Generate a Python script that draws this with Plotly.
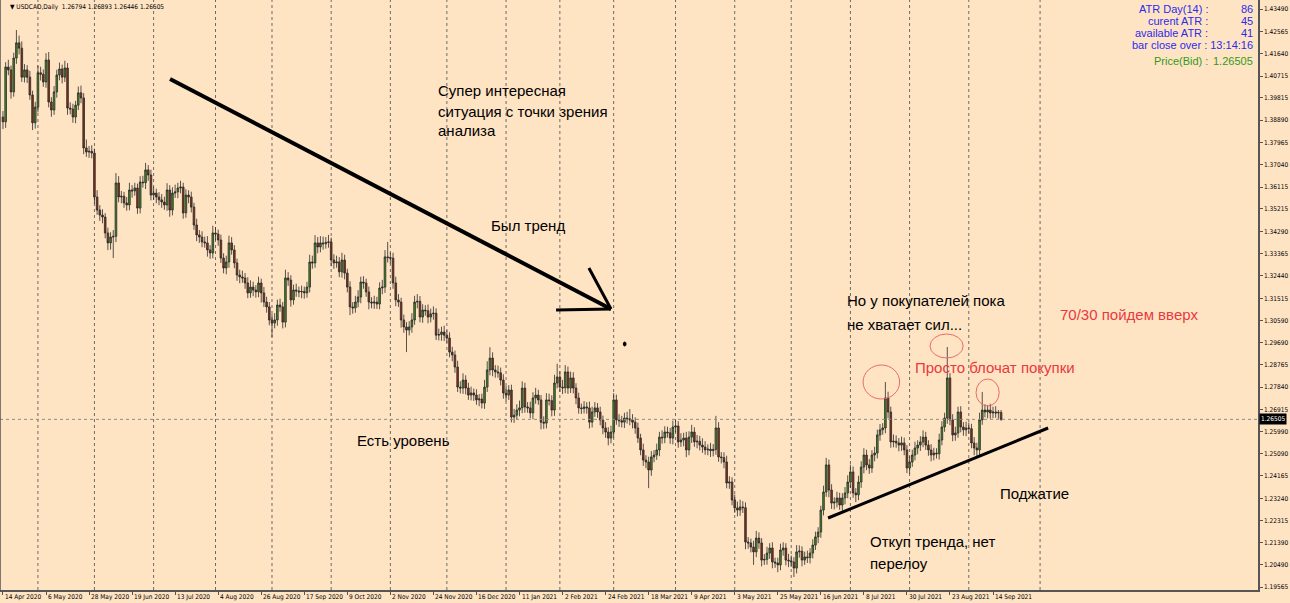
import plotly.graph_objects as go
import pandas as pd

# ---------------- data (USDCAD daily) ----------------
first_open = 1.3902
close = [
    1.3882, 1.4109, 1.4097, 1.4006, 1.4146, 1.4209, 1.4187, 1.4067, 1.4097, 1.4067,
    1.3993, 1.3878, 1.3943, 1.4085, 1.4079, 1.4047, 1.4138, 1.3964, 1.3931, 1.4006,
    1.4076, 1.4101, 1.4067, 1.4105, 1.3939, 1.3935, 1.3902, 1.3951, 1.4002, 1.3981,
    1.3774, 1.3757, 1.3760, 1.3753, 1.3571, 1.3517, 1.3496, 1.3488, 1.3422, 1.3381,
    1.3405, 1.3408, 1.3629, 1.3571, 1.3574, 1.3546, 1.3538, 1.3600, 1.3596, 1.3608,
    1.3525, 1.3633, 1.3630, 1.3683, 1.3662, 1.3579, 1.3587, 1.3571, 1.3559, 1.3550,
    1.3538, 1.3600, 1.3517, 1.3587, 1.3592, 1.3608, 1.3612, 1.3505, 1.3579, 1.3571,
    1.3529, 1.3455, 1.3414, 1.3405, 1.3385, 1.3381, 1.3352, 1.3339, 1.3422, 1.3418,
    1.3393, 1.3318, 1.3277, 1.3302, 1.3381, 1.3352, 1.3298, 1.3248, 1.3240, 1.3236,
    1.3215, 1.3174, 1.3198, 1.3186, 1.3178, 1.3215, 1.3174, 1.3136, 1.3116, 1.3062,
    1.3049, 1.3062, 1.3124, 1.3116, 1.3053, 1.3236, 1.3227, 1.3145, 1.3186, 1.3182,
    1.3178, 1.3180, 1.3174, 1.3198, 1.3302, 1.3298, 1.3381, 1.3364, 1.3381, 1.3377,
    1.3383, 1.3385, 1.3310, 1.3298, 1.3302, 1.3261, 1.3310, 1.3256, 1.3198, 1.3116,
    1.3112, 1.3136, 1.3157, 1.3219, 1.3215, 1.3178, 1.3136, 1.3132, 1.3136, 1.3128,
    1.3194, 1.3198, 1.3323, 1.3320, 1.3318, 1.3215, 1.3145, 1.3136, 1.3062, 1.3033,
    1.3020, 1.3033, 1.3062, 1.3136, 1.3139, 1.3074, 1.3103, 1.3100, 1.3074, 1.3087,
    1.3090, 1.2999, 1.3002, 1.3012, 1.2999, 1.2987, 1.2929, 1.2917, 1.2867, 1.2784,
    1.2780, 1.2813, 1.2780, 1.2751, 1.2760, 1.2751, 1.2731, 1.2735, 1.2718, 1.2784,
    1.2855, 1.2904, 1.2855, 1.2847, 1.2843, 1.2813, 1.2760, 1.2751, 1.2772, 1.2660,
    1.2668, 1.2689, 1.2698, 1.2780, 1.2702, 1.2698, 1.2677, 1.2739, 1.2751, 1.2731,
    1.2639, 1.2635, 1.2731, 1.2728, 1.2689, 1.2801, 1.2826, 1.2784, 1.2781, 1.2847,
    1.2780, 1.2822, 1.2780, 1.2739, 1.2698, 1.2695, 1.2702, 1.2698, 1.2639, 1.2681,
    1.2698, 1.2681, 1.2648, 1.2615, 1.2598, 1.2573, 1.2598, 1.2731, 1.2648, 1.2645,
    1.2639, 1.2656, 1.2653, 1.2648, 1.2639, 1.2615, 1.2573, 1.2524, 1.2482, 1.2474,
    1.2441, 1.2495, 1.2503, 1.2524, 1.2577, 1.2574, 1.2598, 1.2595, 1.2573, 1.2619,
    1.2623, 1.2557, 1.2565, 1.2573, 1.2524, 1.2577, 1.2598, 1.2557, 1.2560, 1.2544,
    1.2536, 1.2524, 1.2527, 1.2521, 1.2526, 1.2615, 1.2495, 1.2492, 1.2474, 1.2387,
    1.2391, 1.2317, 1.2284, 1.2275, 1.2288, 1.2285, 1.2143, 1.2139, 1.2122, 1.2102,
    1.2159, 1.2139, 1.2068, 1.2071, 1.2097, 1.2118, 1.2060, 1.2056, 1.2048, 1.2110,
    1.2118, 1.2068, 1.2065, 1.2060, 1.2035, 1.2102, 1.2105, 1.2068, 1.2081, 1.2078,
    1.2097, 1.2130, 1.2164, 1.2184, 1.2275, 1.2350, 1.2462, 1.2358, 1.2304, 1.2308,
    1.2325, 1.2296, 1.2325, 1.2346, 1.2391, 1.2433, 1.2346, 1.2338, 1.2391, 1.2453,
    1.2503, 1.2462, 1.2449, 1.2503, 1.2511, 1.2586, 1.2607, 1.2615, 1.2739, 1.2681,
    1.2557, 1.2560, 1.2553, 1.2544, 1.2553, 1.2524, 1.2449, 1.2474, 1.2503, 1.2532,
    1.2544, 1.2557, 1.2577, 1.2544, 1.2524, 1.2503, 1.2511, 1.2508, 1.2565, 1.2619,
    1.2656, 1.2822, 1.2648, 1.2586, 1.2594, 1.2681, 1.2619, 1.2607, 1.2615, 1.2612,
    1.2553, 1.2532, 1.2524, 1.2648, 1.2689, 1.2681, 1.2689, 1.2677, 1.2681, 1.2677,
    1.26794, 1.26505,
]
# upper / lower shadow lengths in pips (0.0001)
wick_up_pips = [
    25, 20, 30, 18, 22, 53, 30, 28, 24, 20, 26, 18, 22, 30, 25, 20, 28, 33, 20, 24,
    22, 26, 18, 30, 20, 24, 22, 18, 26, 30, 20, 35, 22, 25, 18, 28, 20, 24, 16, 22,
    20, 26, 41, 28, 22, 18, 25, 30, 20, 22, 18, 24, 26, 29, 20, 22, 26, 18, 20, 24,
    22, 28, 20, 24, 30, 22, 26, 18, 24, 20, 22, 18, 26, 20, 24, 22, 28, 20, 30, 24,
    18, 22, 20, 26, 30, 24, 20, 18, 22, 26, 20, 24, 28, 22, 20, 26, 18, 24, 22, 20,
    24, 28, 22, 26, 20, 34, 24, 20, 22, 26, 18, 24, 20, 22, 30, 26, 32, 24, 28, 26,
    22, 29, 18, 24, 26, 20, 30, 22, 18, 24, 20, 26, 28, 22, 24, 18, 22, 20, 26, 22,
    24, 30, 28, 62, 20, 22, 26, 24, 18, 22, 20, 24, 28, 26, 30, 22, 24, 20, 26, 22,
    28, 20, 24, 22, 26, 20, 24, 22, 18, 26, 24, 28, 20, 22, 26, 18, 24, 20, 22, 30,
    36, 45, 24, 20, 26, 22, 24, 28, 20, 22, 26, 24, 30, 28, 22, 20, 26, 24, 30, 22,
    20, 24, 28, 26, 22, 34, 55, 24, 30, 28, 22, 26, 24, 20, 22, 18, 24, 20, 26, 22,
    24, 20, 22, 18, 24, 20, 26, 28, 22, 24, 20, 22, 26, 40, 24, 20, 22, 18, 26, 20,
    22, 24, 20, 26, 22, 28, 24, 22, 20, 26, 24, 20, 28, 22, 26, 24, 30, 20, 26, 22,
    28, 24, 20, 26, 22, 50, 24, 20, 22, 26, 24, 20, 22, 26, 30, 24, 22, 20, 18, 26,
    30, 24, 20, 22, 26, 20, 24, 18, 22, 26, 24, 20, 26, 22, 20, 28, 24, 20, 22, 26,
    20, 24, 22, 20, 18, 26, 29, 22, 24, 20, 26, 22, 20, 24, 28, 30, 22, 20, 26, 24,
    28, 22, 24, 20, 26, 22, 24, 20, 66, 26, 22, 28, 24, 20, 26, 22, 20, 24, 22, 26,
    20, 24, 28, 22, 20, 24, 22, 20, 26, 24, 22, 128, 20, 24, 26, 22, 24, 20, 26, 22,
    20, 24, 22, 30, 75, 24, 20, 26, 22, 24, 10, 10,
]
wick_dn_pips = [
    30, 25, 22, 28, 20, 24, 26, 20, 22, 24, 20, 30, 24, 22, 26, 20, 24, 22, 28, 20,
    24, 22, 26, 20, 28, 22, 24, 26, 20, 22, 26, 20, 24, 22, 28, 20, 24, 26, 22, 30,
    28, 87, 24, 22, 26, 20, 24, 22, 28, 20, 24, 22, 20, 26, 24, 22, 20, 26, 22, 24,
    20, 24, 28, 22, 20, 26, 22, 24, 20, 26, 22, 20, 26, 24, 22, 20, 28, 24, 22, 26,
    24, 20, 22, 26, 24, 20, 22, 24, 26, 20, 24, 22, 20, 26, 24, 22, 40, 20, 24, 22,
    58, 22, 24, 20, 26, 22, 24, 28, 20, 24, 22, 26, 24, 20, 22, 24, 20, 26, 22, 24,
    20, 22, 26, 24, 20, 22, 24, 26, 22, 34, 24, 20, 22, 26, 24, 20, 30, 22, 24, 20,
    22, 26, 24, 20, 22, 24, 26, 20, 32, 24, 91, 22, 24, 20, 26, 22, 24, 20, 26, 22,
    24, 20, 22, 26, 24, 20, 22, 26, 24, 20, 22, 24, 26, 20, 22, 24, 20, 26, 22, 24,
    20, 22, 26, 24, 20, 22, 24, 26, 20, 22, 24, 20, 26, 22, 24, 20, 22, 26, 24, 20,
    30, 24, 22, 20, 26, 24, 22, 20, 26, 22, 24, 20, 22, 26, 24, 22, 20, 24, 26, 22,
    20, 24, 22, 26, 24, 30, 22, 24, 20, 26, 22, 24, 20, 22, 26, 24, 20, 22, 24, 26,
    75, 24, 22, 20, 26, 24, 22, 20, 24, 26, 22, 24, 20, 26, 30, 22, 24, 20, 26, 22,
    24, 20, 22, 26, 24, 22, 20, 24, 26, 22, 24, 22, 20, 26, 24, 22, 30, 24, 22, 54,
    22, 24, 26, 20, 22, 24, 26, 20, 30, 22, 24, 22, 26, 20, 37, 22, 24, 26, 20, 22,
    24, 22, 20, 26, 24, 22, 20, 30, 24, 26, 22, 20, 24, 26, 22, 24, 20, 30, 22, 24,
    26, 22, 24, 20, 26, 22, 24, 20, 22, 26, 24, 22, 20, 26, 24, 22, 21, 24, 20, 22,
    26, 24, 22, 20, 24, 26, 22, 20, 24, 22, 20, 24, 22, 26, 24, 20, 22, 24, 26, 20,
    22, 30, 28, 24, 20, 22, 26, 24, 22, 20, 24, 6,
]
tick_labels = ["14 Apr 2020", "6 May 2020", "28 May 2020", "19 Jun 2020", "13 Jul 2020",
               "4 Aug 2020", "26 Aug 2020", "17 Sep 2020", "9 Oct 2020", "2 Nov 2020",
               "24 Nov 2020", "16 Dec 2020", "11 Jan 2021", "2 Feb 2021", "24 Feb 2021",
               "18 Mar 2021", "9 Apr 2021", "3 May 2021", "25 May 2021", "16 Jun 2021",
               "8 Jul 2021", "30 Jul 2021", "23 Aug 2021", "14 Sep 2021"]
label_step = 16
price_ticks = [1.43490, 1.42565, 1.41640, 1.40715, 1.39815, 1.38890, 1.37965, 1.37040,
               1.36115, 1.35215, 1.34290, 1.33365, 1.32440, 1.31515, 1.30590, 1.29690,
               1.28765, 1.27840, 1.26915, 1.25990, 1.25090, 1.24165, 1.23240, 1.22315,
               1.21390, 1.20490, 1.19565]
bid = 1.26505
last_bar = dict(o=1.26794, h=1.26893, l=1.26446, c=1.26505)

# ---------------- derived OHLC ----------------
n = min(len(close), len(wick_up_pips), len(wick_dn_pips))
close = close[:n]
opens = [first_open] + close[:-1]
opens[-1] = last_bar["o"]
highs = [max(o, c) + w / 10000 for o, c, w in zip(opens, close, wick_up_pips)]
lows = [min(o, c) - w / 10000 for o, c, w in zip(opens, close, wick_dn_pips)]
highs[-1] = last_bar["h"]
lows[-1] = last_bar["l"]
idx = list(range(n))

# trading calendar (weekdays, no Christmas / New Year bar) for month grid lines
days = [d for d in pd.bdate_range("2020-04-14", periods=420)
        if not (d.month == 12 and d.day == 25) and not (d.month == 1 and d.day == 1)]
month_starts = [i for i in range(1, len(days)) if days[i].month != days[i - 1].month]
month_starts = [i for i in month_starts if i < n]
future_grid = [385.5]   # terminal's next grid line to the right of the last bar

BG = "#FFE4C4"
fig = go.Figure()
fig.add_trace(go.Candlestick(
    x=idx, open=opens, high=highs, low=lows, close=close,
    increasing=dict(fillcolor="#3f8e1c", line=dict(color="#2a2a2a", width=0.8)),
    decreasing=dict(fillcolor="#8b2e12", line=dict(color="#2a2a2a", width=0.8)),
    whiskerwidth=0, hoverinfo="skip", showlegend=False,
))

shapes = []
for m in month_starts + future_grid:
    shapes.append(dict(type="line", xref="x", yref="paper", x0=m, x1=m, y0=0, y1=1,
                       line=dict(color="#6a6a6a", width=1, dash="dot"), layer="below"))
shapes.append(dict(type="line", xref="paper", yref="y", x0=0, x1=1, y0=bid, y1=bid,
                   line=dict(color="#8a8a8a", width=1, dash="dot")))
shapes.append(dict(type="line", xref="paper", yref="paper", x0=0, x1=0, y0=0, y1=1,
                   line=dict(color="#555555", width=1.5)))
# drawn objects (anchored in bar-index / price, like terminal objects)
black = "#000000"
shapes += [
    dict(type="line", x0=62.1, y0=1.40593, x1=226.0, y1=1.31073, line=dict(color=black, width=4)),
    dict(type="line", x0=205.6, y0=1.31032, x1=226.0, y1=1.31073, line=dict(color=black, width=3)),
    dict(type="line", x0=217.8, y0=1.32770, x1=226.0, y1=1.31073, line=dict(color=black, width=3)),
    dict(type="line", x0=306.7, y0=1.22422, x1=388.5, y1=1.26148, line=dict(color=black, width=3)),
    dict(type="circle", x0=319.7, x1=333.3, y0=1.27348, y1=1.28755, line=dict(color="#e86a6a", width=1)),
    dict(type="circle", x0=344.6, x1=356.9, y0=1.29045, y1=1.30038, line=dict(color="#e86a6a", width=1)),
    dict(type="circle", x0=361.7, x1=370.3, y0=1.27058, y1=1.28176, line=dict(color="#e86a6a", width=1)),
    dict(type="circle", x0=230.6, x1=231.6, y0=1.29541, y1=1.29707, fillcolor=black, line=dict(color=black, width=1)),
]

ann = []
small = dict(family="DejaVu Sans Condensed, DejaVu Sans", size=6.5, color="#000000")
for k, lab in enumerate(tick_labels):
    ann.append(dict(x=k * label_step, y=0, xref="x", yref="paper", text=lab, showarrow=False,
                    xanchor="left", yanchor="top", xshift=0, yshift=-1, font=small))
ann.append(dict(x=0, y=1, xref="paper", yref="paper", xanchor="left", yanchor="top",
                xshift=8, yshift=-1, showarrow=False,
                text="▼ USDCAD,Daily  %.5f %.5f %.5f %.5f" % (last_bar["o"], last_bar["h"], last_bar["l"], last_bar["c"]),
                font=small))
ann.append(dict(x=1, y=bid, xref="paper", yref="y", xanchor="left", yanchor="middle",
                xshift=1, showarrow=False, text="%.5f" % bid, bgcolor="#000000",
                font=dict(family="DejaVu Sans Condensed, DejaVu Sans", size=6.5, color="#ffffff"), borderpad=1))

blue = "#2b2bf0"
green = "#2f9a1c"
W, H = 1258.0, 590.0
def P(xp, yp):
    return xp / W, 1 - yp / H
info = [("ATR Day(14) :", "86", 9, blue), ("curent ATR :", "45", 21, blue),
        ("available ATR :", "41", 33, blue)]
for lab, val, yp, col in info:
    xa, ya = P(1210, yp)
    ann.append(dict(x=xa, y=ya, xref="paper", yref="paper", xanchor="right", yanchor="middle",
                    text=lab, showarrow=False, font=dict(family="Liberation Sans", size=11, color=col)))
    xa, ya = P(1255, yp)
    ann.append(dict(x=xa, y=ya, xref="paper", yref="paper", xanchor="right", yanchor="middle",
                    text=val, showarrow=False, font=dict(family="Liberation Sans", size=11, color=col)))
xa, ya = P(1255, 45)
ann.append(dict(x=xa, y=ya, xref="paper", yref="paper", xanchor="right", yanchor="middle",
                text="bar close over : 13:14:16", showarrow=False,
                font=dict(family="Liberation Sans", size=11, color=blue)))
xa, ya = P(1210, 61)
ann.append(dict(x=xa, y=ya, xref="paper", yref="paper", xanchor="right", yanchor="middle",
                text="Price(Bid) :", showarrow=False, font=dict(family="Liberation Sans", size=11, color=green)))
xa, ya = P(1255, 61)
ann.append(dict(x=xa, y=ya, xref="paper", yref="paper", xanchor="right", yanchor="middle",
                text="%.5f" % bid, showarrow=False, font=dict(family="Liberation Sans", size=11, color=green)))

red = "#e8393e"
notes = [("Супер интересная", 436, 90, black), ("ситуация с точки зрения", 436, 111, black),
         ("анализа", 436, 131, black), ("Был тренд", 489, 225, black),
         ("Есть уровень", 355, 440, black), ("Но у покупателей пока", 845, 301, black),
         ("не хватает сил...", 845, 324, black), ("70/30 пойдем вверх", 1058, 314, red),
         ("Просто блочат покупки", 913, 367, red), ("Поджатие", 998, 493, black),
         ("Откуп тренда, нет", 868, 541, black), ("перелоу", 868, 563, black)]
for t, xp, yp, col in notes:
    xa, ya = P(xp, yp)
    ann.append(dict(x=xa, y=ya, xref="paper", yref="paper", xanchor="left", yanchor="middle",
                    text=t, showarrow=False, font=dict(family="Liberation Sans", size=15, color=col)))

fig.update_layout(
    width=1290, height=603, margin=dict(l=0, r=32, t=0, b=13),
    paper_bgcolor=BG, plot_bgcolor=BG, boxgap=0.12,
    shapes=shapes, annotations=ann, showlegend=False, hovermode=False,
    xaxis=dict(range=[-1.1, 466.5], rangeslider=dict(visible=False), showgrid=False,
               zeroline=False, showline=True, linecolor="#555555", linewidth=1.5,
               tickvals=[k * label_step for k in range(len(tick_labels))],
               ticks="outside", ticklen=3, tickcolor="#555555", showticklabels=False),
    yaxis=dict(range=[1.19442, 1.43863], side="right", showgrid=False, zeroline=False,
               showline=True, linecolor="#555555", linewidth=1.5,
               tickvals=price_ticks, ticktext=["%.5f" % v for v in price_ticks],
               ticks="outside", ticklen=3, tickcolor="#555555",
               tickfont=dict(family="DejaVu Sans Condensed, DejaVu Sans", size=6.5, color="#000000")),
)
fig.write_html("out.html")
